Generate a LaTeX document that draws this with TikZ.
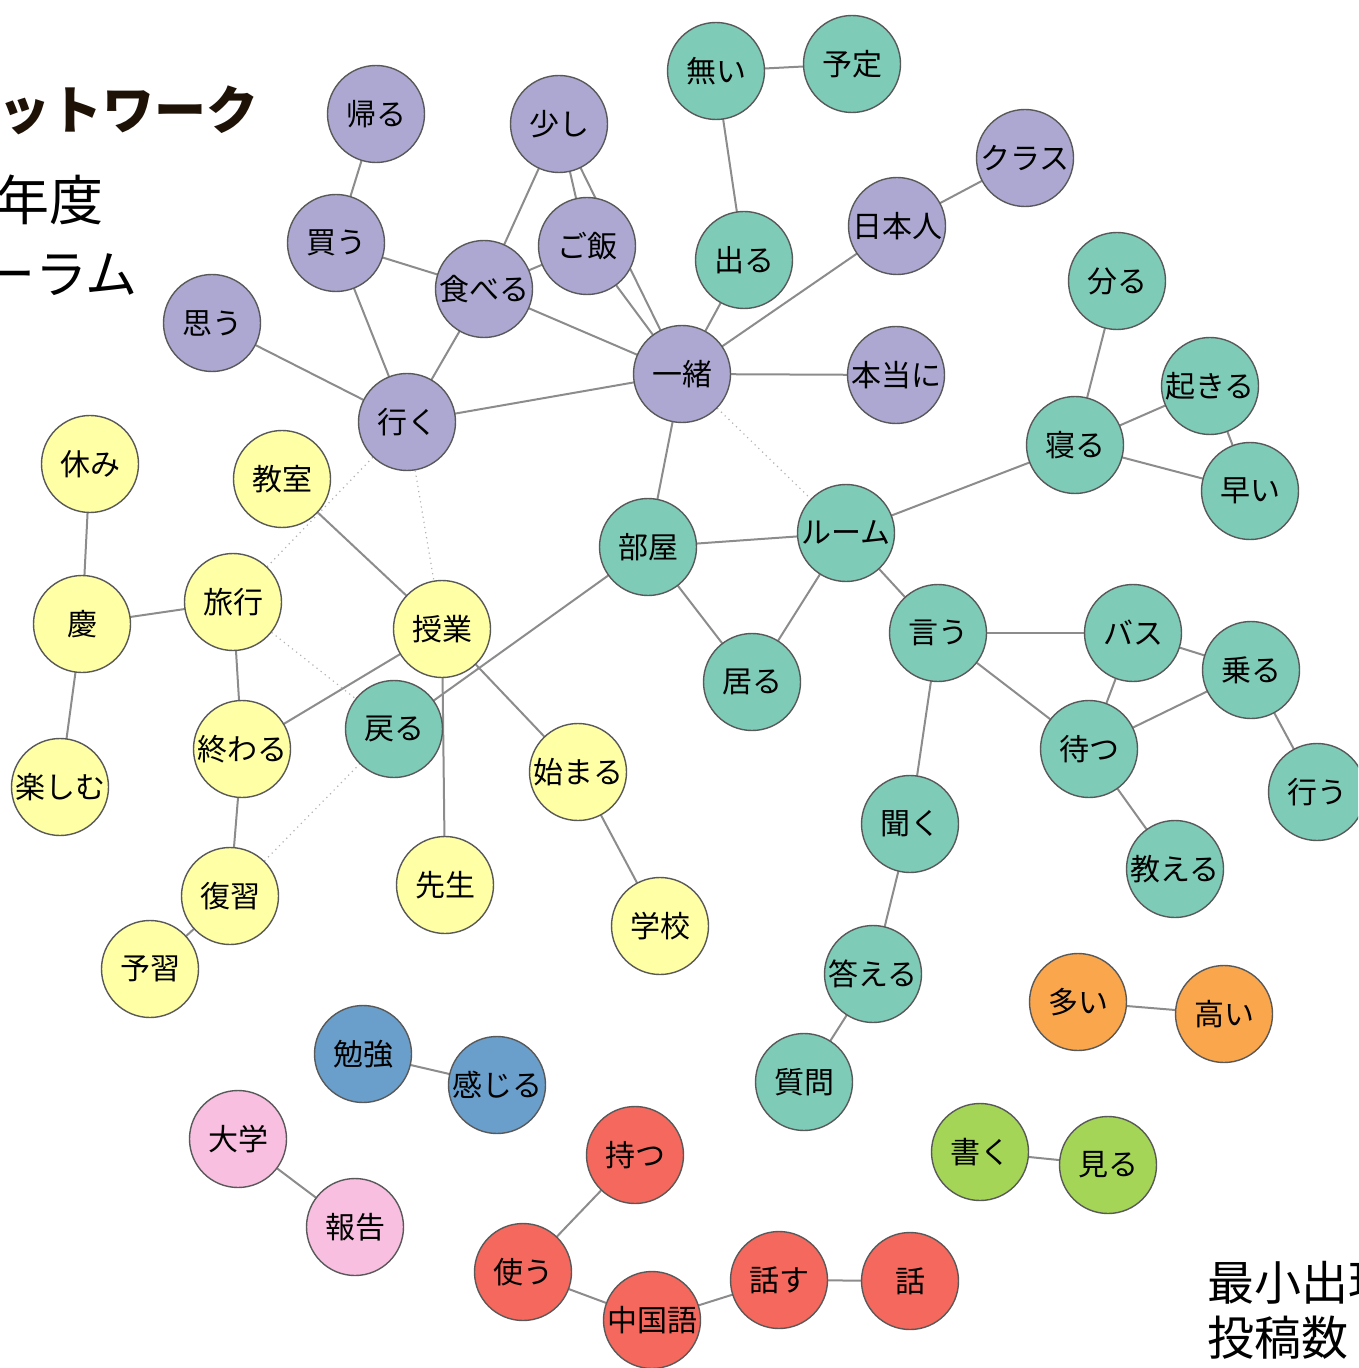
\documentclass[tikz,border=0pt]{standalone}
\usepackage{fontspec}
\setmainfont{Noto Sans CJK JP}
\usetikzlibrary{backgrounds}
\definecolor{wpurple}{RGB}{173,168,209}
\definecolor{wteal}{RGB}{126,203,184}
\definecolor{wyellow}{RGB}{255,255,166}
\definecolor{worange}{RGB}{249,166,76}
\definecolor{wblue}{RGB}{106,159,203}
\definecolor{wpink}{RGB}{248,191,224}
\definecolor{wred}{RGB}{244,104,93}
\definecolor{wgreen}{RGB}{165,213,86}
\definecolor{titlebrown}{RGB}{30,18,6}
\begin{document}
\begin{tikzpicture}[x=0.5pt,y=-0.5pt,
  word/.style={circle,draw=black!65,line width=0.7pt,minimum size=48.5pt,inner sep=0pt,
    font=\fontsize{15}{15}\selectfont},
  pu/.style={word,fill=wpurple},
  te/.style={word,fill=wteal},
  ye/.style={word,fill=wyellow},
  og/.style={word,fill=worange},
  bl/.style={word,fill=wblue},
  pk/.style={word,fill=wpink},
  rd/.style={word,fill=wred},
  gr/.style={word,fill=wgreen},
  link/.style={draw=black!45,line width=1pt},
  weak/.style={draw=black!30,line width=0.6pt,dotted}]
\useasboundingbox (0,0) rectangle (1358,1368);
\clip (0,0) rectangle (1358,1368);

\node[anchor=west,inner sep=0pt,text=titlebrown,font=\fontsize{26}{26}\bfseries\selectfont] (title) at (-2,110) {ットワーク};
\node[anchor=east,inner sep=0pt,font=\fontsize{27}{27}\selectfont] (year) at (104,200) {年度};
\node[anchor=east,inner sep=0pt,font=\fontsize{26}{26}\selectfont] (forum) at (138,275) {ーラム};
\node[anchor=west,inner sep=0pt,font=\fontsize{23.5}{23.5}\selectfont] (minfreq) at (1207,1283) {最小出現};
\node[anchor=west,inner sep=0pt,font=\fontsize{23.5}{23.5}\selectfont] (posts) at (1207,1338) {投稿数};

\node[pu] (kaeru) at (376,114) {帰る};
\node[pu] (sukoshi) at (559,124) {少し};
\node[pu] (kau) at (336,243) {買う};
\node[pu] (gohan) at (587,246) {ご飯};
\node[pu] (taberu) at (484,289) {食べる};
\node[pu] (omou) at (212,323) {思う};
\node[pu] (iku) at (407,422) {行く};
\node[pu] (issho) at (682,374) {一緒};
\node[pu] (nihonjin) at (897,226) {日本人};
\node[pu] (kurasu) at (1025,158) {クラス};
\node[pu] (hontou) at (896,375) {本当に};

\node[te] (nai) at (716,71) {無い};
\node[te] (yotei) at (852,64) {予定};
\node[te] (deru) at (744,260) {出る};
\node[te] (wakaru) at (1117,281) {分る};
\node[te] (okiru) at (1210,386) {起きる};
\node[te] (neru) at (1075,445) {寝る};
\node[te] (hayai) at (1250,491) {早い};
\node[te] (room) at (846,533) {ルーム};
\node[te] (heya) at (648,547) {部屋};
\node[te] (iru) at (752,682) {居る};
\node[te] (iu) at (938,633) {言う};
\node[te] (basu) at (1133,633) {バス};
\node[te] (noru) at (1251,670) {乗る};
\node[te] (matsu) at (1089,749) {待つ};
\node[te] (okonau) at (1317,792) {行う};
\node[te] (oshieru) at (1175,869) {教える};
\node[te] (kiku) at (910,824) {聞く};
\node[te] (kotaeru) at (873,974) {答える};
\node[te] (shitsumon) at (804,1082) {質問};
\node[te] (modoru) at (394,729) {戻る};

\node[ye] (yasumi) at (90,464) {休み};
\node[ye] (kyoushitsu) at (282,479) {教室};
\node[ye] (kei) at (82,624) {慶};
\node[ye] (ryokou) at (233,602) {旅行};
\node[ye] (jugyou) at (442,629) {授業};
\node[ye] (owaru) at (242,749) {終わる};
\node[ye] (tanoshimu) at (60,787) {楽しむ};
\node[ye] (hajimaru) at (578,772) {始まる};
\node[ye] (sensei) at (445,885) {先生};
\node[ye] (fukushuu) at (230,896) {復習};
\node[ye] (gakkou) at (660,926) {学校};
\node[ye] (yoshuu) at (150,969) {予習};

\node[og] (ooi) at (1078,1002) {多い};
\node[og] (takai) at (1224,1014) {高い};
\node[bl] (benkyou) at (363,1054) {勉強};
\node[bl] (kanjiru) at (497,1085) {感じる};
\node[pk] (daigaku) at (238,1139) {大学};
\node[pk] (houkoku) at (355,1227) {報告};
\node[rd] (motsu) at (635,1155) {持つ};
\node[rd] (tsukau) at (523,1272) {使う};
\node[rd] (chuugokugo) at (652,1320) {中国語};
\node[rd] (hanasu) at (779,1280) {話す};
\node[rd] (hanashi) at (910,1281) {話};
\node[gr] (kaku) at (980,1152) {書く};
\node[gr] (miru) at (1108,1165) {見る};

\begin{pgfonlayer}{background}
\draw[link] (kaeru.center) -- (kau.center);
\draw[link] (kau.center) -- (taberu.center);
\draw[link] (kau.center) -- (iku.center);
\draw[link] (omou.center) -- (iku.center);
\draw[link] (iku.center) -- (taberu.center);
\draw[link] (iku.center) -- (issho.center);
\draw[link] (taberu.center) -- (sukoshi.center);
\draw[link] (taberu.center) -- (gohan.center);
\draw[link] (taberu.center) -- (issho.center);
\draw[link] (sukoshi.center) -- (gohan.center);
\draw[link] (sukoshi.center) -- (issho.center);
\draw[link] (gohan.center) -- (issho.center);
\draw[link] (issho.center) -- (deru.center);
\draw[link] (deru.center) -- (nai.center);
\draw[link] (nai.center) -- (yotei.center);
\draw[link] (issho.center) -- (nihonjin.center);
\draw[link] (nihonjin.center) -- (kurasu.center);
\draw[link] (issho.center) -- (hontou.center);
\draw[link] (issho.center) -- (heya.center);
\draw[link] (heya.center) -- (room.center);
\draw[link] (heya.center) -- (iru.center);
\draw[link] (room.center) -- (iru.center);
\draw[link] (heya.center) -- (modoru.center);
\draw[link] (room.center) -- (neru.center);
\draw[link] (room.center) -- (iu.center);
\draw[link] (neru.center) -- (wakaru.center);
\draw[link] (neru.center) -- (okiru.center);
\draw[link] (neru.center) -- (hayai.center);
\draw[link] (okiru.center) -- (hayai.center);
\draw[link] (iu.center) -- (basu.center);
\draw[link] (iu.center) -- (matsu.center);
\draw[link] (iu.center) -- (kiku.center);
\draw[link] (basu.center) -- (matsu.center);
\draw[link] (basu.center) -- (noru.center);
\draw[link] (noru.center) -- (matsu.center);
\draw[link] (noru.center) -- (okonau.center);
\draw[link] (matsu.center) -- (oshieru.center);
\draw[link] (kiku.center) -- (kotaeru.center);
\draw[link] (kotaeru.center) -- (shitsumon.center);
\draw[link] (kyoushitsu.center) -- (jugyou.center);
\draw[link] (ryokou.center) -- (kei.center);
\draw[link] (kei.center) -- (yasumi.center);
\draw[link] (kei.center) -- (tanoshimu.center);
\draw[link] (ryokou.center) -- (owaru.center);
\draw[link] (owaru.center) -- (jugyou.center);
\draw[link] (owaru.center) -- (fukushuu.center);
\draw[link] (fukushuu.center) -- (yoshuu.center);
\draw[link] (jugyou.center) -- (sensei.center);
\draw[link] (jugyou.center) -- (hajimaru.center);
\draw[link] (hajimaru.center) -- (gakkou.center);
\draw[link] (ooi.center) -- (takai.center);
\draw[link] (benkyou.center) -- (kanjiru.center);
\draw[link] (daigaku.center) -- (houkoku.center);
\draw[link] (motsu.center) -- (tsukau.center);
\draw[link] (tsukau.center) -- (chuugokugo.center);
\draw[link] (chuugokugo.center) -- (hanasu.center);
\draw[link] (hanasu.center) -- (hanashi.center);
\draw[link] (kaku.center) -- (miru.center);
\draw[weak] (iku) -- (ryokou);
\draw[weak] (iku) -- (jugyou);
\draw[weak] (issho) -- (room);
\draw[weak] (ryokou) -- (modoru);
\draw[weak] (fukushuu) -- (modoru);
\end{pgfonlayer}
\end{tikzpicture}
\end{document}
